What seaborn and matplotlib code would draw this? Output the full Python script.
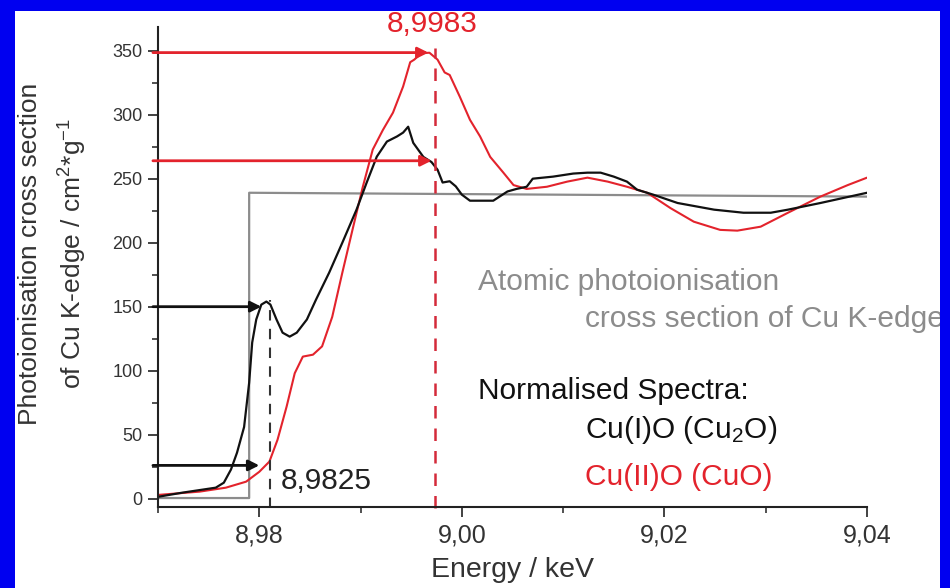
import matplotlib
matplotlib.use("Agg")
import matplotlib.pyplot as plt
from matplotlib.patches import Rectangle
from matplotlib.ticker import MultipleLocator
import pandas as pd
import seaborn as sns

# Cu2O spectrum (black)
cu2o_energy = [8.9701, 8.9724, 8.9757, 8.9765, 8.9772, 8.9778, 8.9785, 8.9790, 8.9793,
               8.9797, 8.9802, 8.9807, 8.9811, 8.9817, 8.9823, 8.9830, 8.9837, 8.9847,
               8.9856, 8.9869, 8.9882, 8.9896, 8.9906, 8.9916, 8.9926, 8.9936, 8.9942,
               8.9947, 8.9952, 8.9962, 8.9970, 8.9976, 8.9981, 8.9988, 8.9994, 9.0000,
               9.0008, 9.0031, 9.0045, 9.0054, 9.0064, 9.0070, 9.0090, 9.0110, 9.0124,
               9.0137, 9.0150, 9.0163, 9.0173, 9.0189, 9.0213, 9.0249, 9.0278, 9.0305,
               9.0322, 9.0354, 9.0400]
cu2o_sigma = [1.6, 4.7, 8.6, 12.5, 22.7, 35.9, 56, 90.6, 122,
              140, 151.6, 154, 151.6, 140, 129.7, 126.6, 129.7, 140,
              155.5, 176.6, 200, 225.8, 246.9, 267.2, 279, 283, 286,
              290.6, 278, 267, 263, 257, 247, 248, 244, 237.5,
              232.8, 232.8, 240, 242, 243.7, 250, 251.6, 254, 254.7,
              254.7, 251.6, 247.7, 241.4, 237.5, 231, 225.8, 223.4, 223.4,
              225.8, 231, 239]

# CuO spectrum (red)
cuo_energy = [8.9701, 8.9741, 8.9767, 8.9787, 8.9800, 8.9810, 8.9818, 8.9827, 8.9835,
              8.9843, 8.9853, 8.9862, 8.9872, 8.9882, 8.9892, 8.9902, 8.9912, 8.9922,
              8.9932, 8.9942, 8.9949, 8.9953, 8.9960, 8.9968, 8.9976, 8.9983, 8.9988,
              8.9998, 9.0008, 9.0018, 9.0028, 9.0041, 9.0051, 9.0064, 9.0084, 9.0104,
              9.0124, 9.0144, 9.0163, 9.0183, 9.0206, 9.0229, 9.0255, 9.0272, 9.0295,
              9.0322, 9.0354, 9.0381, 9.0400]
cuo_sigma = [3, 5.5, 8.6, 13.3, 21, 29, 46, 72, 98,
             111, 112.5, 119, 142, 176.6, 210, 243, 272.7, 288,
             301.6, 322, 341, 343, 348, 348.4, 343, 333, 331,
             314, 296, 283, 267, 254.7, 245, 242, 243.7, 247.7,
             250.8, 247.7, 243.7, 239, 227, 216.4, 210, 209.4, 212.5,
             223.4, 236, 245, 250.8]

# atomic cross section step (grey)
atomic_energy = [8.9700, 8.9790, 8.9790, 9.0400]
atomic_sigma = [0.5, 0.5, 239, 236]

x_ticks = [8.98, 9.00, 9.02, 9.04]
x_ticklabels = ["8,98", "9,00", "9,02", "9,04"]
y_ticks = [0, 50, 100, 150, 200, 250, 300, 350]

# arrows: (y level, arrow tip energy)
red_arrows = [(348.5, 8.9967), (264, 8.9970)]
black_arrows = [(150, 8.9802), (26, 8.9800)]
red_edge = 8.9973
black_edge = 8.9811

RED = "#e3232c"
BLACK = "#111111"
GREY = "#8c8c8c"
BLUE = "#0000f0"
FS = 21.5

sns.set_style("ticks")
plt.rcParams["font.family"] = ["Liberation Sans", "DejaVu Sans"]
plt.rcParams["mathtext.default"] = "regular"

fig = plt.figure(figsize=(9.5, 5.88), dpi=100)
fig.patch.set_facecolor(BLUE)
fig.add_artist(Rectangle((15 / 950, 0), 925 / 950, 577 / 588, transform=fig.transFigure,
                         facecolor="white", edgecolor="none", zorder=-5))

ax = fig.add_axes([158 / 950, 81 / 588, 709 / 950, 480 / 588])
ax.set_facecolor("none")

sns.lineplot(x=atomic_energy, y=atomic_sigma, color=GREY, lw=1.6, estimator=None, sort=False, ax=ax)
sns.lineplot(x=cuo_energy, y=cuo_sigma, color=RED, lw=1.5, estimator=None, sort=False, ax=ax)
sns.lineplot(x=cu2o_energy, y=cu2o_sigma, color=BLACK, lw=1.6, estimator=None, sort=False, ax=ax)

# edge markers
ax.plot([red_edge, red_edge], [-7, 352], color="#d42a3a", lw=1.8, ls=(0, (5, 4)), clip_on=False)
ax.plot([black_edge, black_edge], [-7, 155], color="#333333", lw=1.5, ls=(0, (5, 4)), clip_on=False)

for yv, xe in red_arrows:
    ax.annotate("", xy=(xe, yv), xytext=(8.9695, yv), annotation_clip=False,
                arrowprops=dict(arrowstyle="-|>", color=RED, lw=2, mutation_scale=16,
                                shrinkA=0, shrinkB=0))
for yv, xe in black_arrows:
    ax.annotate("", xy=(xe, yv), xytext=(8.9695, yv), annotation_clip=False,
                arrowprops=dict(arrowstyle="-|>", color=BLACK, lw=2, mutation_scale=16,
                                shrinkA=0, shrinkB=0))

ax.text(8.9971, 371, "8,9983", color=RED, fontsize=FS, ha="center", va="center", clip_on=False)
ax.text(8.9821, 13.5, "8,9825", color="#222222", fontsize=FS, ha="left", va="center")
ax.text(9.0016, 169, "Atomic photoionisation", color=GREY, fontsize=FS, ha="left", va="center")
ax.text(9.0122, 140, "cross section of Cu K-edge", color=GREY, fontsize=FS, ha="left", va="center",
        clip_on=False)
ax.text(9.0016, 84, "Normalised Spectra:", color=BLACK, fontsize=FS, ha="left", va="center")
ax.text(9.0122, 54, "Cu(I)O (Cu$_2$O)", color=BLACK, fontsize=FS, ha="left", va="center")
ax.text(9.0122, 17, "Cu(II)O (CuO)", color=RED, fontsize=FS, ha="left", va="center")

ax.set_xlim(8.97, 9.04)
ax.set_ylim(-6.5, 368.5)
ax.set_xticks(x_ticks, x_ticklabels)
ax.set_yticks(y_ticks, [str(v) for v in y_ticks])
ax.xaxis.set_minor_locator(MultipleLocator(0.01))
ax.yaxis.set_minor_locator(MultipleLocator(25))
ax.tick_params(axis="x", which="major", length=7, width=1.3, labelsize=18, pad=5, colors="#333333")
ax.tick_params(axis="y", which="major", length=7, width=1.3, labelsize=13, pad=4, colors="#333333")
ax.tick_params(which="minor", length=4, width=1.2, color="#333333")

sns.despine(ax=ax)
for side in ["left", "bottom"]:
    ax.spines[side].set_linewidth(1.5)
    ax.spines[side].set_color("#222222")

ax.set_xlabel("Energy / keV", fontsize=20.5, color="#333333")
ax.xaxis.set_label_coords(0.5, -0.104)
ax.set_ylabel("Photoionisation cross section\nof Cu K-edge / cm$^2$*g$^{-1}$", fontsize=19,
              color="#333333", linespacing=1.6)
ax.yaxis.set_label_coords(-0.097, 0.528)

# blue frame on top so overflowing text is cut like in the original
for rect in [(0, 0, 15 / 950, 1), (940 / 950, 0, 10 / 950, 1), (0, 577 / 588, 1, 11 / 588)]:
    fig.add_artist(Rectangle(rect[:2], rect[2], rect[3], transform=fig.transFigure,
                             facecolor=BLUE, edgecolor="none", zorder=50))

fig.savefig("out.png", dpi=100, facecolor=BLUE)
